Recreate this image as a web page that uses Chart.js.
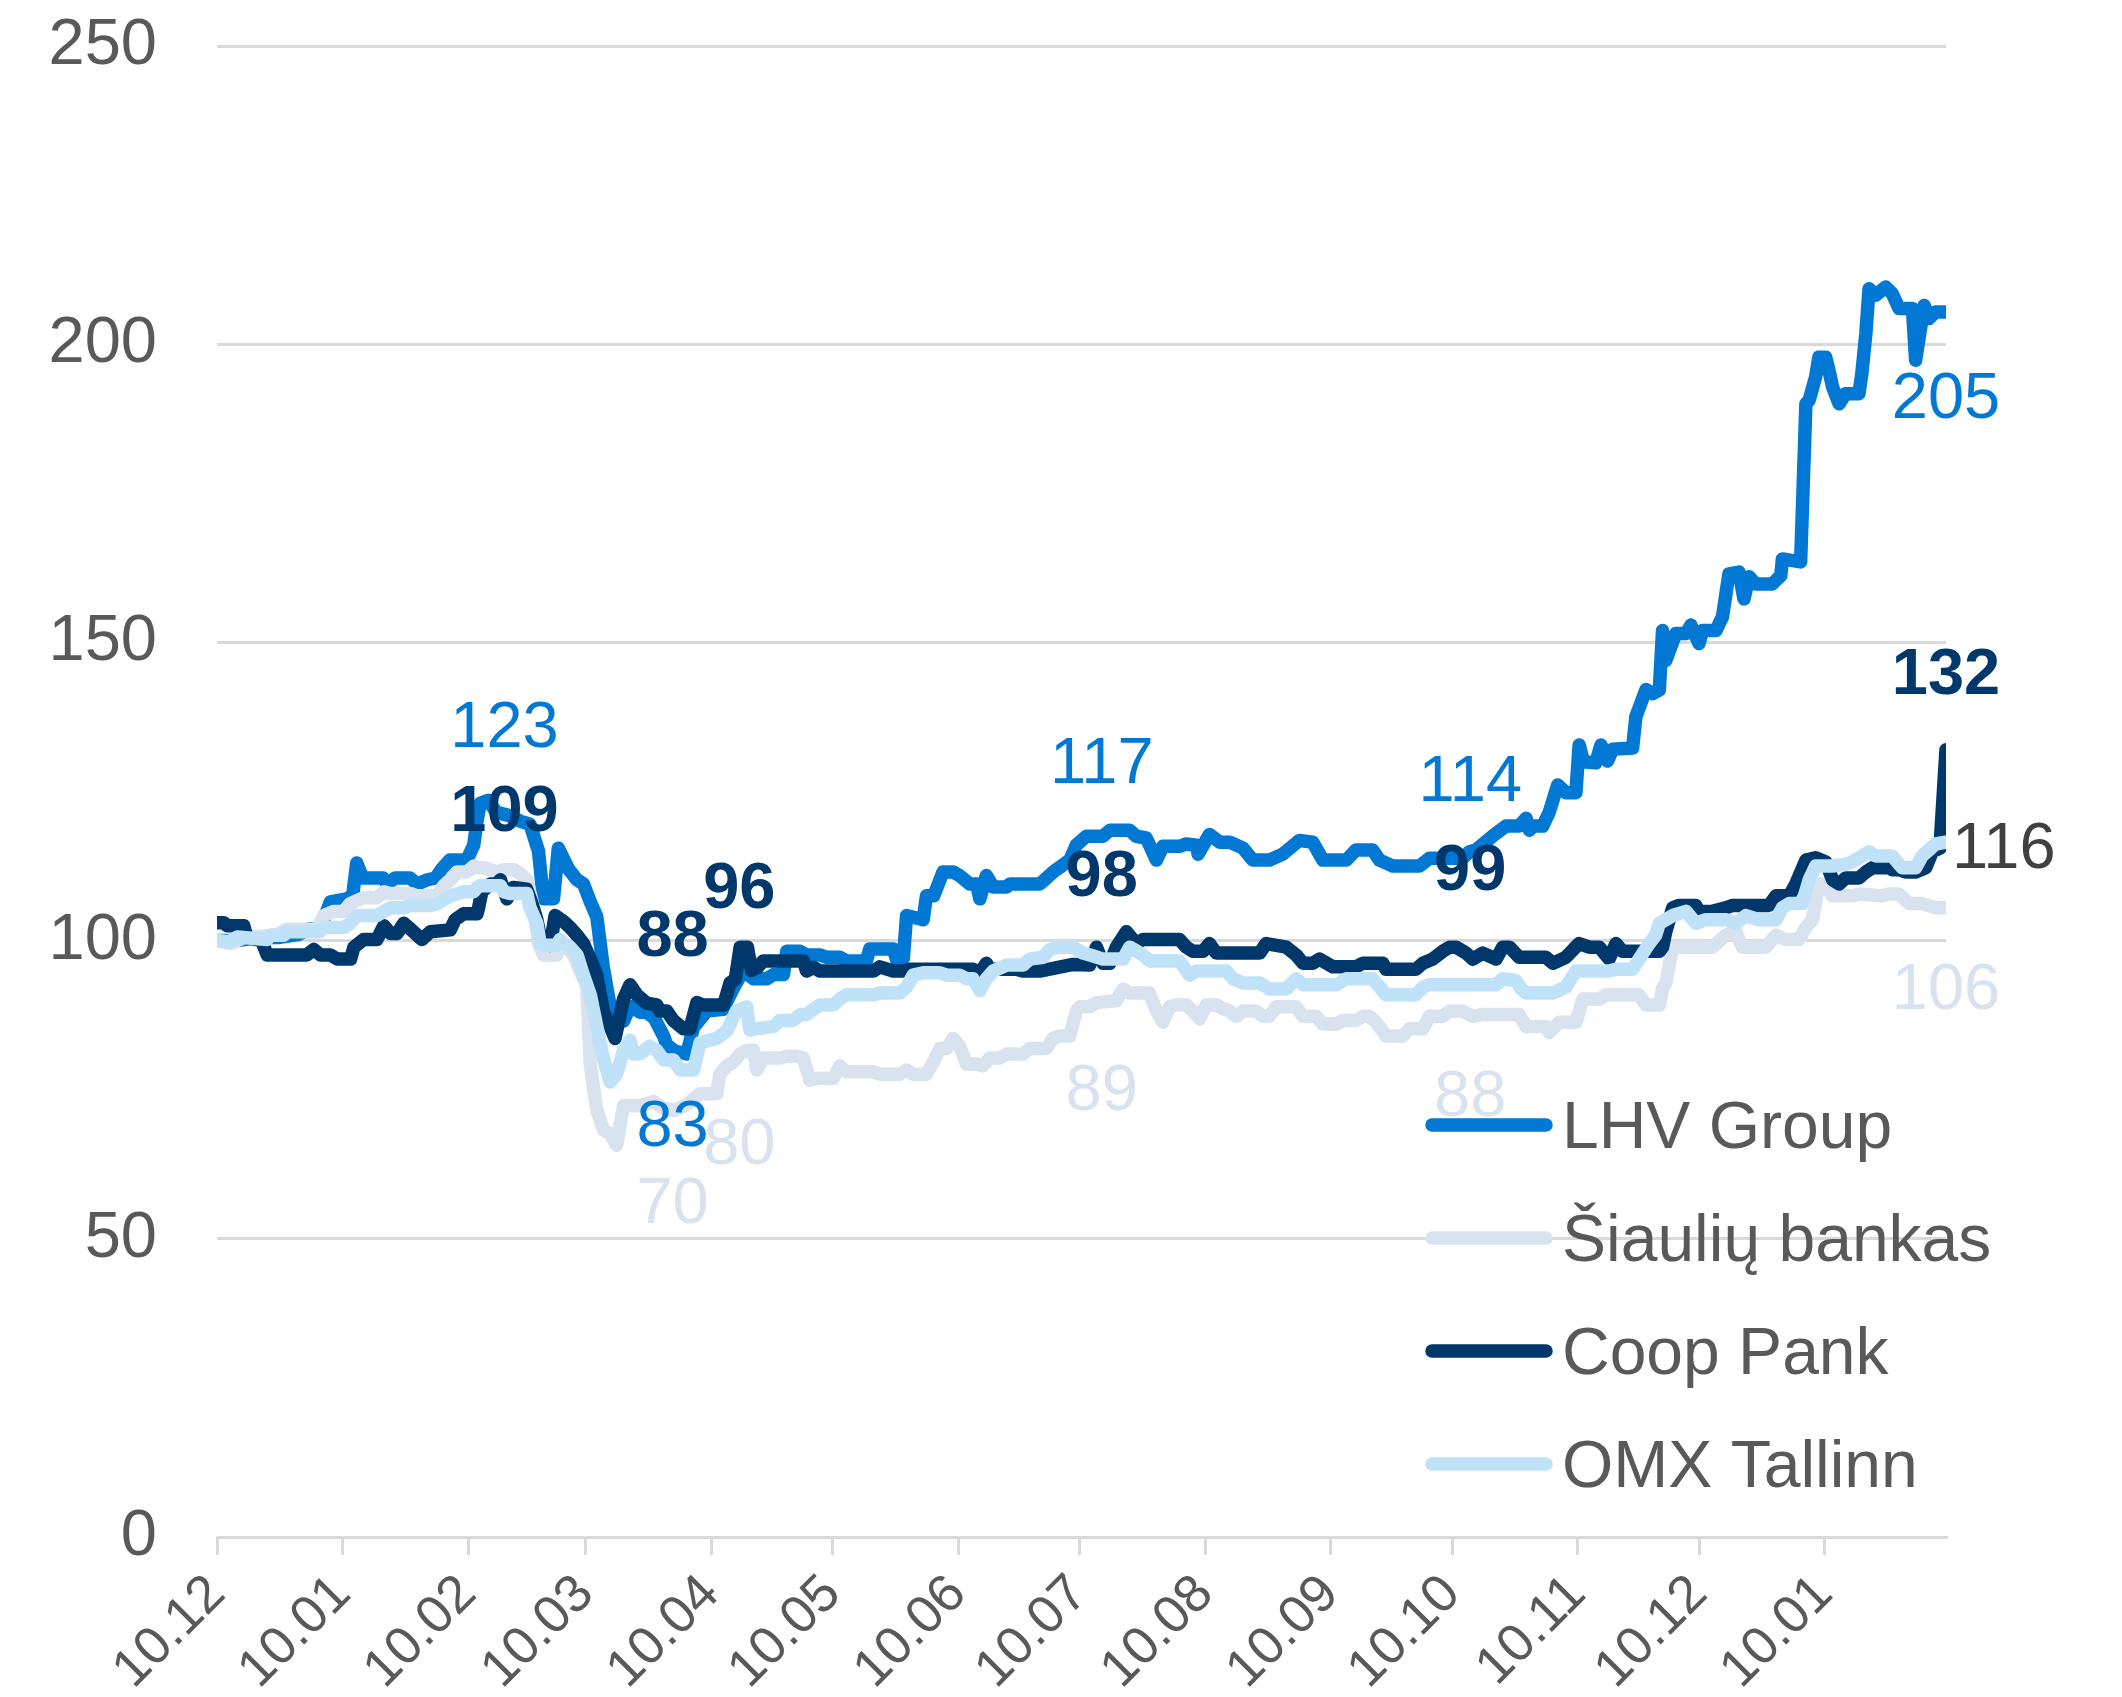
<!DOCTYPE html>
<html>
<head>
<meta charset="utf-8">
<script src="https://cdn.jsdelivr.net/npm/chart.js@4.4.1/dist/chart.umd.min.js"></script>
<style>
  html, body { margin: 0; padding: 0; background: #ffffff; }
  #chart { display: block; }
</style>
</head>
<body>
<canvas id="chart" width="2122" height="1697"></canvas>
<script>
/* ============================
   DATA  (x = days since 10.12.2019)
============================ */

const tickDays   = [0, 31, 62, 91, 122, 152, 183, 213, 244, 275, 305, 336, 366, 397];
const tickLabels = ["10.12","10.01","10.02","10.03","10.04","10.05","10.06","10.07","10.08","10.09","10.10","10.11","10.12","10.01"];

const lhvGroup = [
  [0,100],[5,100],[10,100.5],[15,100.5],[20,101],[23,102],[25.5,102],[28,106.5],[32,107],[33.5,107.5],
  [34.5,113],[36,110.5],[41,110.5],[42,109.5],[44,110.5],[47.7,110.5],[49.4,109.5],[52,110.2],[54,110.5],
  [55.5,112],[57.5,113.5],[61.7,113.5],[63.4,116],[64.2,120],[65,123],[67,123.5],[69,121.5],[72,121],
  [75,120],[77.3,119.5],[79.4,115],[80.6,107],[83.1,107],[84.3,115.5],[86.8,112],[88.9,110.2],[90.5,109.5],
  [92.2,106.5],[93.8,104],[95.4,95.5],[97.1,89],[98.3,86.5],[100.4,86.5],[102,89],[104.5,88],[106,88],
  [108,87],[110.3,84],[111.1,82.5],[113,81.5],[116,81],[117.7,85.5],[121,88.2],[125,88.5],[127.5,92],
  [130,95],[132.5,93.6],[135.8,93.6],[137.4,94.3],[139.9,94.3],[140.7,98.2],[144,98.2],[145.6,97.6],
  [148.9,97.6],[150.6,97.2],[153.8,97.2],[155.5,96.6],[160.4,96.6],[161.2,98.6],[167,98.6],[167.8,96.9],
  [169.5,97],[170.3,104.2],[174.4,103.5],[175.2,107.5],[177,107.5],[179.3,111.5],[181.8,111.5],[183.4,110.9],
  [185.9,109.5],[187.6,109.5],[188.4,107],[190,110.9],[191.7,109],[195,109],[195.8,109.5],[203.2,109.5],
  [204.4,110.2],[206.5,111.5],[210.6,113.5],[212.2,116],[214.7,117.5],[218.8,117.5],[220.5,118.5],
  [225.4,118.5],[227,117.5],[229.5,117.2],[232,113.5],[233.6,115.8],[237.7,115.8],[239.4,116.2],[241.9,116],
  [242.3,114.5],[245.1,117.8],[247.6,116.5],[250.1,116.5],[253.4,115.5],[255.8,113.5],[259.9,113.5],
  [263.2,114.5],[267.3,116.8],[270.6,116.5],[273.1,113.5],[278.9,113.5],[281.3,115.2],[285.4,115.2],
  [287.1,113.5],[290.4,112.5],[297,112.5],[299.4,113.8],[307.6,113.8],[309.3,114.9],[310.9,115.2],
  [315,117.5],[318.3,119.2],[321.6,119.2],[323.3,120.5],[324.1,118.5],[325,119.2],[327.4,119.2],[329,121.5],
  [331.1,126.1],[333.1,124.8],[335.6,124.8],[336.4,132.8],[337.5,130],[340.5,129.8],[341.8,132.8],
  [343.4,130.1],[344.7,132.1],[349.6,132.3],[350.4,137.5],[352.9,142.1],[354.5,141.4],[356.2,142],[357,152],
  [357.8,147],[360.3,151.5],[362.8,151.5],[364,152.9],[366,149.8],[366.9,152],[370.2,152],[371.8,154.3],
  [373.4,161.5],[375.9,161.8],[377.1,157.3],[378.4,161],[380,159.8],[384.1,159.8],[386.2,161.2],[386.6,164],
  [391.1,163.5],[392.4,190],[393.2,190.6],[394.8,194.5],[395.6,197.8],[397.3,197.8],[398.1,195.6],[399,192.8],
  [400.6,190],[402.2,191.7],[405.5,191.7],[406.2,195],[407.2,201.7],[408,209.3],[409.6,208.2],[412.1,209.6],
  [413.7,208.5],[415.4,206],[418.7,206],[419.5,197.3],[421.6,206.5],[422.8,204.3],[424.4,205.4],[427,205.4]
];

const siauliuBankas = [
  [0,100],[3.3,99.5],[6.6,100.5],[14.8,101],[17.3,101.9],[24.7,101.9],[26.4,104.2],[28.8,104.9],[31.3,104.9],
  [32.9,106.2],[36.2,107.2],[39.5,107.2],[41.2,108.2],[42.8,107.9],[47.7,107.9],[49.4,107.5],[54.3,107.5],
  [56,109.2],[57.6,110.2],[59.3,111.5],[61.7,111.5],[63.4,112.5],[64.2,112.2],[65.8,112.2],[67.5,111.9],
  [69.1,111.5],[70.8,111.9],[73.2,111.9],[74.9,111.2],[76.5,110.2],[78.2,105.5],[79.4,99.5],[80.6,97.6],
  [83.9,97.6],[84.7,99.5],[86.4,98.9],[88,97.6],[89.7,94.9],[91.3,92.5],[92.2,79],[93.8,71.6],[95.4,68.3],
  [97.1,67.6],[98.7,65.7],[100.4,72.3],[104.5,72.3],[107.8,73],[110,72],[113,71.5],[116,72.5],[119.3,74.3],
  [123.4,74.3],[124.2,77.6],[125.9,79],[127.5,79.6],[129.2,81],[130.8,81.6],[132.5,81.6],[133.3,78.3],
  [134.9,80.3],[139,80.3],[140.7,80.6],[143.2,80.6],[144.8,80.3],[146.4,76.6],[148.1,76.9],[152.2,76.9],
  [153.8,79],[155.5,78],[162.1,78],[163.7,77.6],[168.6,77.6],[170.3,78.3],[171.9,77.6],[175.2,77.6],
  [176.9,79.6],[178.5,81.9],[180.2,81.9],[181.8,83.6],[183.4,82.3],[185.1,79.3],[187.6,79.3],[189.2,79],
  [190.9,80.3],[193.3,80.3],[195,81],[199.1,81],[200.7,81.9],[204.8,81.9],[206.5,83.6],[208.1,84],[210.6,84],
  [211.4,86],[212.2,88.2],[213.1,88.9],[215.5,88.9],[217.2,89.6],[222.1,89.9],[223.8,91.9],[225.4,91.2],
  [230.3,91.2],[232,88.2],[233.6,86.3],[235.3,88.9],[236.9,89.2],[239.4,89.2],[241,88.2],[242.7,86.9],
  [244.3,89.2],[246.8,89.2],[248.4,88.6],[250.1,88.2],[251.7,87.3],[253.4,88.2],[256.7,88.2],[258.3,87.3],
  [259.9,87.3],[261.6,88.9],[266.5,88.9],[268.2,87.3],[271.5,87.3],[273.1,86],[276.4,86],[278,86.6],
  [281.3,86.6],[283,87.3],[284.6,87.3],[286.3,86.3],[288.7,84],[292.8,84],[294.5,85.2],[297.8,85.2],
  [299.4,87.3],[302.7,87.3],[304.4,88.2],[307.6,88.2],[310.1,87.3],[312.6,87.6],[321.6,87.6],[323.3,85.6],
  [328.2,85.6],[329,84.6],[331.5,86.3],[335.6,86.3],[337.3,90.2],[341.4,90.2],[343,90.9],[351.2,90.9],
  [352.9,89.2],[356.2,89.2],[357,92],[357.8,92.9],[359.5,98.9],[369.3,98.9],[372.6,100.9],[375.1,101.5],
  [376.7,98.9],[382.5,98.9],[385,100.9],[387.4,100.2],[390.7,100.2],[392.4,102.2],[394,103.5],[395.6,109.5],
  [397.3,109.5],[398.9,107.5],[403.9,107.5],[405.5,107.8],[411.3,107.5],[412.9,107.8],[415.4,107.8],
  [417.9,106.2],[421.1,106.2],[424.4,105.5],[427,105.5]
];

const coopPank = [
  [0,103],[1.7,103],[2.5,102.5],[6.6,102.5],[7.4,100.5],[11,100],[12.4,97.6],[22.2,97.6],[23.9,98.5],
  [25.5,97.6],[28,97.6],[29.7,96.9],[33,96.9],[33.8,98.9],[36.2,100.2],[39.5,100.2],[41.2,102.5],[42.8,101.2],
  [44.5,101.2],[46.1,102.9],[47.7,102],[50.6,100.2],[52.7,101.5],[57.6,101.8],[58.8,103.5],[60.9,104.5],
  [64.2,104.5],[64.6,105.5],[65.4,108.2],[67.5,109.5],[69.1,109.5],[70,110.2],[71.6,107],[73.2,108.9],
  [76.5,108.6],[77.8,106.2],[79,103.5],[80.2,99.5],[82.3,99.2],[83.5,104.2],[85.6,103.2],[87.2,102.2],
  [88.9,100.9],[90.5,99.5],[92.2,96.9],[93.8,94.2],[95.4,88.2],[97.1,85.6],[98.3,83.6],[100.4,90.2],
  [102,92.6],[103.7,90.9],[106.1,89.5],[108.6,89.2],[109.4,88.2],[111.1,88.2],[112.7,86.6],[115.2,85.2],
  [116.8,85.2],[118.5,89.6],[120.1,89.2],[125.1,89.2],[125.9,91],[126.7,92.9],[128,93.5],[129.2,98.9],
  [131,98.9],[132,95],[133.5,95.5],[134.9,96.6],[144.8,96.6],[145.6,94.9],[147.3,95.5],[148.9,94.9],
  [162.1,94.9],[163.7,95.6],[167,94.9],[169.5,94.9],[171.1,95.2],[186.7,95.2],[188.4,94.6],[190,96.2],
  [190.9,95.2],[197.4,95.2],[199,94.9],[203.2,94.9],[211.4,96],[215.5,95.9],[217.2,98.9],[218.8,96.2],
  [220.5,96.2],[222.1,98.9],[224.6,101.5],[227,99.5],[228.7,100.2],[237.7,100.2],[239.4,98.9],[241,98.2],
  [243.5,98.2],[245.1,99.5],[246.8,97.9],[257.5,97.9],[259.1,99.5],[264.1,98.9],[266.5,97.6],[268.2,96.2],
  [270.6,96.2],[272.3,96.9],[275.6,95.6],[281.3,95.6],[283,96.2],[287.9,96.2],[288.7,95.2],[296.1,95.2],
  [297.8,96.2],[300.2,96.9],[302.7,98.2],[304.4,98.9],[306,98.9],[308.5,97.9],[310.1,96.9],[312.6,97.9],
  [315.9,96.9],[317.5,98.9],[319.2,98.9],[321.6,97.2],[328.2,97.2],[329.9,96.2],[333.1,97.2],[336.4,99.5],
  [338.9,98.9],[341.4,98.9],[343.8,96.9],[345.5,99.5],[347.1,98.2],[356.2,98.2],[357,98.9],[357.8,101.5],
  [359.5,105.5],[361.1,105.9],[365.2,105.9],[366,104.9],[369.3,104.9],[372.6,105.5],[374.3,105.9],
  [383.3,105.9],[385,107.5],[388.3,107.5],[389.9,109.5],[392.4,113.5],[394.8,113.9],[397.3,113.2],
  [399,110.2],[400.6,109.5],[402.2,110.5],[405.5,110.5],[407.2,111.5],[408.8,112.2],[412.9,112.2],
  [413.7,111.9],[415.4,111.9],[417,111.5],[419.5,111.5],[422,112.2],[423.6,114.9],[425.5,115.5],[427,132]
];

const omxTallinn = [
  [0,100],[3,99.8],[5,100.6],[12.4,100.2],[13.2,100.9],[16.5,100.9],[17.3,101.5],[25.5,101.5],[26.4,102.2],
  [31.3,102.2],[32.9,102.9],[34.6,104.2],[39.5,104.2],[41.2,104.9],[42.8,105.5],[46.1,105.5],[47.7,105.9],
  [52.7,105.9],[54.3,106.2],[56,106.9],[57.6,107.5],[60.9,108.2],[63.4,108.2],[64.2,108.9],[65,109.2],
  [70,109.2],[70.8,108.2],[72.4,107.9],[76.5,107.9],[77.3,105.5],[79,102.9],[79.8,99.5],[80.6,99.2],
  [83.9,99.2],[84.7,100.2],[85.6,99.5],[87.2,98.9],[88.9,97.6],[90.5,94.2],[92.2,90.9],[93.8,85.6],
  [95.4,80.3],[97.1,76.3],[98.7,77.6],[100.4,81.6],[102,83.3],[102.8,81],[104.5,81],[106.9,82.3],
  [108.6,81.6],[110.3,80],[112.7,80],[114.4,78.3],[117.7,78.3],[119.3,82.9],[123.4,83.6],[125.9,84.9],
  [128.3,88.2],[130.8,88.9],[131.6,85],[132.9,85.2],[137.4,85.6],[139,86.6],[142.3,86.6],[144,87.6],
  [145.6,87.6],[147.3,88.5],[148.9,89.2],[152.2,89.2],[153.8,90.2],[155.5,90.9],[162.1,90.9],[163.7,91.2],
  [168.6,91.2],[170.3,92.2],[171.9,94.2],[174.4,94.6],[178.5,94.6],[180.2,94.2],[183.4,94.2],[185.1,93.6],
  [186.7,93.6],[188.4,91.6],[190,93.6],[191.7,94.9],[195,95.9],[199.1,95.9],[200.7,96.9],[204,97.2],
  [205.7,98.5],[208.1,98.9],[211.4,98.9],[213.9,97.9],[216,97.5],[218.8,96.9],[223.8,96.9],[225.4,98.9],
  [228.7,97.6],[230.3,96.6],[237.7,96.6],[240.2,94.2],[241.9,94.9],[249.3,94.9],[250.9,93.6],[253.4,92.9],
  [257.5,92.9],[259.9,91.9],[264.1,91.9],[266.5,93.6],[268.2,92.6],[276.4,92.6],[278.9,93.6],[285.4,93.6],
  [288.7,90.9],[296.1,90.9],[297.8,92.2],[299.4,92.6],[315.9,92.6],[317.5,93.6],[320.8,93.3],[322,92],
  [323.3,91.2],[329.9,91.2],[333.1,92.2],[335.6,94.9],[343.8,94.9],[345.5,95.2],[349.6,95.2],[351.2,96.9],
  [353.7,99.5],[355.3,100.9],[356.2,102.9],[359.5,104.2],[362.8,104.9],[365.2,102.9],[367.7,103.5],
  [372.6,103.5],[375.1,102.9],[377.6,104.2],[380.8,103.5],[385,103.5],[386.6,105.5],[388.3,106.2],
  [391.5,106.2],[393.2,110.2],[394.8,112.5],[398.9,112.5],[402.2,112.8],[403.9,113.2],[408,114.9],
  [409.6,114.2],[413.7,114.2],[416.2,112.2],[419.5,112.2],[421.1,114.2],[422.8,115.2],[424.4,116.2],[427,116.5]
];

/* value labels written on the chart */
const labelSeries = [0, 2, 2, 2, 0, 1, 1, 0, 2, 1, 0, 2, 1, 0, 2, 3, 1];
const labelDays   = [71, 71, 112.5, 129, 112.5, 129, 112.5, 218.5, 218.5, 218.5, 309.5, 309.5, 309.5, 427, 427, 427, 427];
const labelValues = [123, 109, 88, 96, 83, 80, 70, 117, 98, 89, 114, 99, 88, 205, 132, 116, 106];
const labelPlaces = ["above","above","above","above","below","below","below","above","above","below","above","above","below","below","above","right","below"];

/* ============================
   STYLE
============================ */

const FONT = "'Liberation Sans', Arial, sans-serif";
const TEXT_GREY = "#595959";
const GRID_GREY = "#D9D9D9";

const seriesNames  = ["LHV Group", "Šiaulių bankas", "Coop Pank", "OMX Tallinn"];
const seriesColors = ["#0078D4", "#D9E2EF", "#00386B", "#C0E2F8"];
const labelColors  = ["#0078D4", "#D9E2EF", "#00386B", "#404040"];
const labelWeights = ["normal", "normal", "bold", "normal"];

function toPoints(pairs){
  return pairs.map(p => ({ x: p[0], y: p[1] }));
}

/* ============================
   PLUGINS
============================ */

const valueLabels = {
  id: "valueLabels",
  afterDatasetsDraw(chart){
    const { ctx, scales: { x, y } } = chart;
    ctx.save();
    for(let i = 0; i < labelValues.length; i++){
      const s = labelSeries[i];
      const px = x.getPixelForValue(labelDays[i]);
      const py = y.getPixelForValue(labelValues[i]);
      ctx.font = `${labelWeights[s]} 65px ${FONT}`;
      ctx.fillStyle = labelColors[s];
      ctx.textBaseline = "middle";
      if(labelPlaces[i] === "right"){
        ctx.textAlign = "left";
        ctx.fillText(String(labelValues[i]), px + 6, py + 5);
      } else {
        ctx.textAlign = "center";
        const dy = labelPlaces[i] === "above" ? -74 : 86;
        ctx.fillText(String(labelValues[i]), px, py + dy);
      }
    }
    ctx.restore();
  }
};

const insideLegend = {
  id: "insideLegend",
  afterDraw(chart){
    const { ctx } = chart;
    const left = 1432, lineEnd = 1546, textX = 1562, top = 1125, step = 113;
    ctx.save();
    chart.data.datasets.forEach((ds, i) => {
      const yy = top + i * step;
      ctx.strokeStyle = ds.borderColor;
      ctx.lineWidth = 13.5;
      ctx.lineCap = "round";
      ctx.beginPath();
      ctx.moveTo(left, yy);
      ctx.lineTo(lineEnd, yy);
      ctx.stroke();
      ctx.fillStyle = TEXT_GREY;
      ctx.font = `66px ${FONT}`;
      ctx.textAlign = "left";
      ctx.textBaseline = "alphabetic";
      ctx.fillText(ds.label, textX, yy + 23);
    });
    ctx.restore();
  }
};

/* ============================
   CHART
============================ */

const allSeries = [lhvGroup, siauliuBankas, coopPank, omxTallinn];

new Chart(document.getElementById("chart"), {
  type: "line",
  data: {
    datasets: allSeries.map((pairs, i) => ({
      label: seriesNames[i],
      data: toPoints(pairs),
      borderColor: seriesColors[i],
      backgroundColor: seriesColors[i],
      borderWidth: 13.5,
      borderCapStyle: "round",
      borderJoinStyle: "round",
      pointRadius: 0,
      tension: 0,
      fill: false,
      order: 4 - i
    }))
  },
  options: {
    responsive: false,
    animation: false,
    devicePixelRatio: 1,
    layout: { padding: { left: 0, right: 176, top: 46, bottom: 0 } },
    plugins: {
      legend: { display: false },
      tooltip: { enabled: false }
    },
    scales: {
      x: {
        type: "linear",
        min: 0,
        max: 427,
        afterBuildTicks(scale){
          scale.ticks = tickDays.map(v => ({ value: v }));
        },
        afterFit(scale){
          scale.height = 160;
          scale.paddingLeft = 0;
          scale.paddingRight = 0;
        },
        ticks: {
          autoSkip: false,
          minRotation: 45,
          maxRotation: 45,
          padding: 8,
          color: TEXT_GREY,
          font: { family: FONT, size: 53 },
          callback: (v, idx) => tickLabels[idx]
        },
        grid: {
          drawOnChartArea: false,
          drawTicks: true,
          tickLength: 18,
          color: GRID_GREY,
          lineWidth: 3
        },
        border: { display: true, color: GRID_GREY, width: 3 }
      },
      y: {
        min: 0,
        max: 250,
        afterFit(scale){
          scale.width = 217;
          scale.paddingTop = 0;
          scale.paddingBottom = 0;
        },
        ticks: {
          stepSize: 50,
          padding: 60,
          color: TEXT_GREY,
          font: { family: FONT, size: 65 }
        },
        grid: {
          drawTicks: false,
          color: GRID_GREY,
          lineWidth: 3
        },
        border: { display: false }
      }
    }
  },
  plugins: [valueLabels, insideLegend]
});
</script>
</body>
</html>
